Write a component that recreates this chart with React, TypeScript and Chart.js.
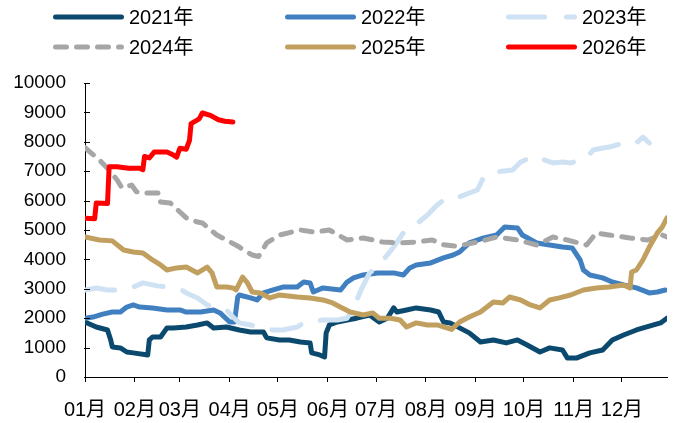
import React, { useEffect, useRef } from 'react';
import { Chart, registerables } from 'chart.js';

Chart.register(...registerables);

const monthLabels = ['01月', '02月', '03月', '04月', '05月', '06月', '07月', '08月', '09月', '10月', '11月', '12月'];
const monthStartDays = [0, 31, 59, 90, 120, 151, 181, 212, 243, 273, 304, 334];
const yTicks = [0, 1000, 2000, 3000, 4000, 5000, 6000, 7000, 8000, 9000, 10000];

const seriesNames = ['2021年', '2022年', '2023年', '2024年', '2025年', '2026年'];

const days2021 = [0, 7, 14, 16, 17, 22, 26, 30, 39, 40, 42, 47, 51, 55, 63, 70, 76, 80, 88, 96, 103, 111, 113, 121, 127, 134, 140, 141, 146, 149, 150, 152, 157, 163, 169, 177, 183, 188, 192, 194, 200, 206, 215, 220, 223, 227, 233, 239, 246, 254, 262, 269, 275, 283, 289, 297, 300, 306, 314, 322, 328, 335, 343, 351, 358, 362];
const vals2021 = [1870, 1700, 1600, 1260, 1020, 990, 850, 820, 750, 1260, 1360, 1360, 1670, 1670, 1700, 1770, 1840, 1670, 1700, 1600, 1530, 1530, 1330, 1260, 1260, 1190, 1160, 820, 750, 680, 1500, 1770, 1870, 1940, 2000, 2110, 1870, 2000, 2350, 2210, 2280, 2350, 2280, 2210, 1870, 1840, 1670, 1500, 1190, 1260, 1160, 1260, 1090, 850, 990, 920, 650, 650, 820, 920, 1260, 1430, 1600, 1730, 1840, 2000];

const days2022 = [0, 5, 11, 17, 22, 26, 30, 34, 42, 51, 59, 63, 72, 80, 84, 90, 93, 95, 96, 103, 107, 111, 117, 123, 132, 136, 140, 142, 148, 159, 163, 167, 173, 182, 192, 198, 202, 206, 215, 223, 229, 233, 239, 248, 256, 261, 269, 272, 281, 289, 297, 303, 308, 310, 314, 322, 328, 335, 343, 351, 356, 361];
const vals2022 = [2000, 2040, 2140, 2210, 2210, 2380, 2450, 2380, 2350, 2280, 2280, 2210, 2210, 2280, 2180, 1870, 1870, 2720, 2790, 2690, 2620, 2860, 2960, 3060, 3060, 3230, 3200, 2890, 3030, 2960, 3230, 3370, 3470, 3540, 3540, 3470, 3710, 3810, 3880, 4050, 4150, 4250, 4560, 4730, 4830, 5100, 5070, 4830, 4560, 4490, 4420, 4390, 3980, 3640, 3470, 3370, 3230, 3130, 3030, 2860, 2890, 2960];

const days2023 = [0, 7, 14, 19, 30, 36, 45, 51, 60, 63, 70, 76, 82, 88, 92, 96, 103, 117, 123, 132, 136, 148, 157, 163, 167, 172, 177, 182, 192, 198, 204, 213, 219, 225, 231, 244, 248, 254, 266, 271, 279, 291, 297, 302, 312, 316, 322, 326, 337, 343, 347, 351];
const vals2023 = [2960, 3030, 2960, 2960, 3060, 3200, 3100, 3060, 2960, 2860, 2690, 2450, 2350, 2280, 2040, 1840, 1770, 1600, 1600, 1700, 1840, 1940, 1940, 2000, 2350, 3000, 3540, 3740, 4420, 4900, 5100, 5510, 5850, 6090, 6090, 6360, 6800, 6970, 7040, 7310, 7520, 7280, 7310, 7280, 7450, 7720, 7790, 7820, 7990, 7960, 8160, 7960];

const days2024 = [0, 9, 15, 20, 23, 29, 32, 38, 46, 47, 53, 63, 70, 73, 76, 82, 88, 96, 104, 108, 113, 121, 134, 143, 152, 163, 173, 185, 196, 206, 216, 223, 231, 244, 256, 269, 281, 291, 300, 312, 318, 326, 339, 350, 359, 362];
const vals2024 = [7800, 7380, 7040, 6700, 6430, 6530, 6300, 6260, 6260, 5950, 5920, 5410, 5270, 5240, 5100, 4830, 4660, 4420, 4150, 4100, 4560, 4830, 5000, 4930, 5000, 4660, 4730, 4590, 4560, 4590, 4660, 4500, 4450, 4590, 4760, 4660, 4490, 4760, 4660, 4490, 4900, 4830, 4730, 4660, 4830, 4760];

const days2025 = [0, 9, 17, 24, 30, 36, 42, 47, 51, 57, 63, 70, 76, 79, 82, 88, 92, 94, 98, 101, 104, 109, 115, 121, 132, 140, 148, 154, 160, 165, 173, 179, 183, 190, 196, 200, 206, 213, 219, 225, 228, 233, 239, 246, 250, 254, 260, 264, 271, 277, 283, 289, 295, 302, 310, 318, 326, 335, 339, 340, 343, 347, 351, 356, 359, 362];
const vals2025 = [4760, 4660, 4630, 4320, 4250, 4220, 3980, 3810, 3640, 3710, 3740, 3540, 3740, 3540, 3060, 3060, 3030, 2960, 3400, 3200, 2890, 2860, 2690, 2790, 2720, 2690, 2620, 2520, 2350, 2210, 2110, 2180, 2000, 2000, 1940, 1700, 1840, 1770, 1770, 1670, 1620, 1870, 2040, 2210, 2380, 2550, 2520, 2720, 2620, 2450, 2350, 2620, 2690, 2790, 2960, 3030, 3060, 3130, 3030, 3570, 3640, 3980, 4420, 4900, 5100, 5410];

const days2026 = [0, 6, 7, 14, 15, 20, 27, 34, 36, 37, 40, 43, 51, 55, 57, 59, 63, 65, 66, 71, 73, 78, 83, 87, 92];
const vals2026 = [5400, 5380, 5920, 5900, 7150, 7150, 7100, 7100, 7050, 7500, 7450, 7650, 7650, 7550, 7480, 7780, 7750, 8050, 8620, 8780, 8980, 8900, 8750, 8700, 8670];

const seriesDays = [days2021, days2022, days2023, days2024, days2025, days2026];
const seriesVals = [vals2021, vals2022, vals2023, vals2024, vals2025, vals2026];
const seriesColors = ['#0b4a6e', '#4180c0', '#cfe2f3', '#a6a6a6', '#c19f5e', '#ff0000'];
const seriesDash: number[][] = [[], [], [30, 20], [11, 10], [], []];

const FONT = '"Liberation Sans", Arial, "Noto Sans CJK SC", sans-serif';

const gridLegend = {
  id: 'gridLegend',
  afterDraw(chart: any, _args: any, opts: any) {
    const ctx = chart.ctx;
    chart.data.datasets.forEach((ds: any, i: number) => {
      const col = i % 3;
      const row = Math.floor(i / 3);
      const x = opts.colX[col];
      const y = opts.rowY[row];
      const w = ds.borderWidth;
      ctx.save();
      ctx.strokeStyle = ds.borderColor;
      ctx.lineWidth = w;
      ctx.lineCap = 'round';
      ctx.setLineDash(ds.legendDash || ds.borderDash || []);
      ctx.beginPath();
      ctx.moveTo(x + w / 2, y);
      ctx.lineTo(x + opts.sampleLen - w / 2, y);
      ctx.stroke();
      ctx.setLineDash([]);
      ctx.fillStyle = '#000';
      ctx.font = `20px ${FONT}`;
      ctx.textBaseline = 'middle';
      ctx.textAlign = 'left';
      ctx.fillText(ds.label, x + opts.sampleLen + 5, y + 1);
      ctx.restore();
    });
  },
};

const innerYTicks = {
  id: 'innerYTicks',
  afterDraw(chart: any) {
    const ctx = chart.ctx;
    const ys = chart.scales.y;
    const left = chart.chartArea.left;
    ctx.save();
    ctx.strokeStyle = '#000';
    ctx.lineWidth = 1;
    ys.ticks.forEach((t: any) => {
      const y = Math.round(ys.getPixelForValue(t.value)) + 0.5;
      ctx.beginPath();
      ctx.moveTo(left - 1, y);
      ctx.lineTo(left + 5, y);
      ctx.stroke();
    });
    ctx.restore();
  },
};

export default function App() {
  const ref = useRef<HTMLCanvasElement | null>(null);

  useEffect(() => {
    document.body.style.margin = '0';
    if (!ref.current) return;
    const datasets = seriesNames.map((name, i) => ({
      label: name,
      data: seriesDays[i].map((d, j) => ({ x: d, y: seriesVals[i][j] })),
      borderColor: seriesColors[i],
      backgroundColor: seriesColors[i],
      borderWidth: 5,
      borderDash: seriesDash[i],
      legendDash: i === 2 ? [36, 22] : seriesDash[i],
      borderCapStyle: 'round',
      borderJoinStyle: 'round',
      pointRadius: 0,
      tension: 0,
      fill: false,
      order: seriesNames.length - i,
    }));

    const chart = new Chart(ref.current, {
      type: 'line',
      data: { datasets },
      options: {
        responsive: false,
        animation: false,
        layout: { padding: { top: 83, right: 8, bottom: 0, left: 0 } },
        plugins: {
          legend: { display: false },
          tooltip: { enabled: false },
          gridLegend: { colX: [53, 285, 506], rowY: [17, 47], sampleLen: 71 },
        } as any,
        scales: {
          x: {
            type: 'linear',
            min: 0,
            max: 362,
            afterBuildTicks: (scale: any) => {
              scale.ticks = monthStartDays.map((v) => ({ value: v }));
            },
            afterFit: (scale: any) => {
              scale.height = 46;
            },
            ticks: {
              autoSkip: false,
              maxRotation: 0,
              minRotation: 0,
              padding: 16,
              color: '#000',
              font: { size: 20, family: FONT },
              callback: (value: any) => {
                const k = monthStartDays.indexOf(Number(value));
                return k >= 0 ? monthLabels[k] : '';
              },
            },
            grid: { display: true, drawOnChartArea: false, drawTicks: true, tickLength: 5, color: '#000', lineWidth: 1 },
            border: { display: true, color: '#000', width: 1 },
          },
          y: {
            type: 'linear',
            min: 0,
            max: 10000,
            afterBuildTicks: (scale: any) => {
              scale.ticks = yTicks.map((v) => ({ value: v }));
            },
            afterFit: (scale: any) => {
              scale.width = 85;
            },
            ticks: {
              padding: 19,
              color: '#000',
              font: { size: 19, family: FONT },
              callback: (value: any) => String(value),
            },
            grid: { display: false, drawTicks: false },
            border: { display: true, color: '#000', width: 1 },
          },
        },
      } as any,
      plugins: [gridLegend, innerYTicks],
    });
    return () => chart.destroy();
  }, []);

  return (
    <div style={{ width: 675, height: 423 }}>
      <canvas ref={ref} width={675} height={423} style={{ display: 'block' }} />
    </div>
  );
}
